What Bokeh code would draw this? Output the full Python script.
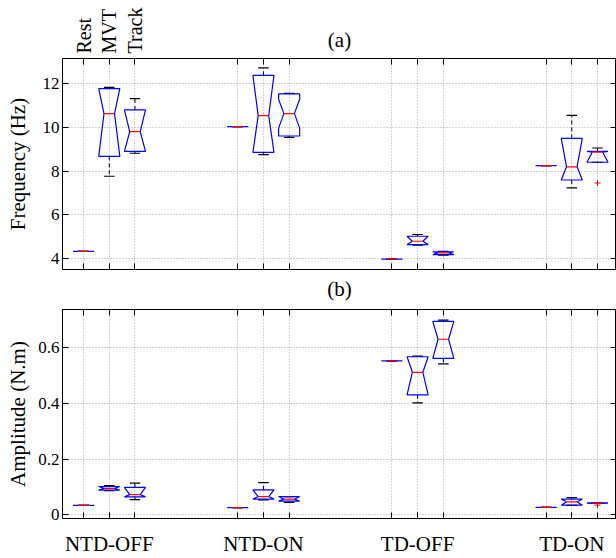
import math
from bokeh.plotting import figure
from bokeh.models import FixedTicker, LinearAxis, Range1d
from bokeh.core.properties import value
from bokeh.layouts import column
from bokeh.embed import file_html
from bokeh.resources import INLINE

# ---------------- data ----------------
conditions = ["NTD-OFF", "NTD-ON", "TD-OFF", "TD-ON"]
tasks = ["Rest", "MVT", "Track"]

# order: for each condition -> Rest, MVT, Track
freq_whisker_lo = [4.33, 7.76, 8.81, 10.03, 8.75, 9.54, 3.97, 4.61, 4.15, 8.25, 7.23, 8.40]
freq_q1 = [4.33, 8.67, 8.90, 10.03, 8.85, 9.60, 3.97, 4.64, 4.18, 8.25, 7.59, 8.40]
freq_median = [4.33, 10.62, 9.80, 10.03, 10.53, 10.62, 3.97, 4.79, 4.26, 8.25, 8.19, 8.86]
freq_q3 = [4.33, 11.76, 10.79, 10.03, 12.37, 11.52, 3.97, 5.02, 4.31, 8.25, 9.49, 8.90]
freq_whisker_hi = [4.33, 11.82, 11.31, 10.03, 12.71, 11.55, 3.97, 5.10, 4.33, 8.25, 10.54, 9.05]
freq_notch_lo = [4.33, 8.67, 8.90, 10.03, 8.85, 9.96, 3.97, 4.64, 4.18, 8.25, 7.59, 8.40]
freq_notch_hi = [4.33, 11.76, 10.79, 10.03, 12.37, 11.28, 3.97, 5.02, 4.31, 8.25, 9.49, 8.90]
freq_outlier_box = [11]
freq_outlier_val = [7.45]

amp_whisker_lo = [0.033, 0.086, 0.054, 0.025, 0.053, 0.044, 0.553, 0.402, 0.542, 0.026, 0.033, 0.040]
amp_q1 = [0.033, 0.088, 0.064, 0.025, 0.056, 0.0485, 0.553, 0.431, 0.562, 0.026, 0.034, 0.040]
amp_median = [0.033, 0.094, 0.072, 0.025, 0.065, 0.0555, 0.553, 0.512, 0.631, 0.026, 0.046, 0.041]
amp_q3 = [0.033, 0.101, 0.098, 0.025, 0.089, 0.065, 0.553, 0.568, 0.695, 0.026, 0.0555, 0.042]
amp_whisker_hi = [0.033, 0.104, 0.113, 0.025, 0.115, 0.065, 0.553, 0.570, 0.700, 0.026, 0.061, 0.042]
amp_notch_lo = [0.033, 0.088, 0.064, 0.025, 0.056, 0.0485, 0.553, 0.431, 0.562, 0.026, 0.034, 0.040]
amp_notch_hi = [0.033, 0.101, 0.098, 0.025, 0.089, 0.065, 0.553, 0.568, 0.695, 0.026, 0.0555, 0.042]
amp_outlier_box = [11]
amp_outlier_val = [0.034]

freq_ticks = [4, 6, 8, 10, 12]
amp_ticks = [0, 0.2, 0.4, 0.6]
panel_titles = ["(a)", "(b)"]

# ---------------- layout helpers ----------------
FONT = "Liberation Serif"
GROUP_STEP = 6
positions = [1 + GROUP_STEP * (i // len(tasks)) + (i % len(tasks))
             for i in range(len(conditions) * len(tasks))]
X_RANGE = (0.18, 21.74)
HW = 0.41   # half box width
QW = 0.205  # half notch / cap width
W = 616
LEFT = 62
TICK = 6


def style_axis(ax, major, minor=None, labels=None, size="17px", standoff=3):
    ax.ticker = FixedTicker(ticks=major, minor_ticks=minor if minor is not None else [])
    ax.major_tick_in = TICK
    ax.major_tick_out = 0
    ax.minor_tick_in = TICK
    ax.minor_tick_out = 0
    ax.axis_line_color = "black"
    ax.major_tick_line_color = "black"
    ax.minor_tick_line_color = "black"
    ax.major_label_text_font = FONT
    ax.major_label_text_color = "black"
    ax.major_label_text_font_size = size
    ax.major_label_standoff = standoff
    ax.axis_label_text_font = FONT
    ax.axis_label_text_font_size = "21px"
    ax.axis_label_text_font_style = "normal"
    ax.axis_label_text_color = "black"
    if labels is not None:
        ax.major_label_overrides = labels


def make_panel(height, ylo, yhi, yticks, ylabels, ylabel, label_standoff,
               border_top, border_bottom, wlo, q1, med, q3, whi, nlo, nhi,
               out_box, out_val):
    p = figure(width=W, height=height, output_backend="svg", toolbar_location=None,
               x_range=Range1d(*X_RANGE), y_range=Range1d(ylo, yhi),
               min_border_left=LEFT, min_border_right=0,
               min_border_top=border_top, min_border_bottom=border_bottom)
    p.outline_line_color = "black"
    p.background_fill_color = "white"
    p.border_fill_color = "white"

    yax = p.yaxis[0]
    style_axis(yax, yticks, labels=ylabels)
    yax.axis_label = ylabel
    yax.axis_label_standoff = label_standoff
    rax = LinearAxis()
    style_axis(rax, [], minor=yticks, standoff=0)
    p.add_layout(rax, "right")

    for g in (p.xgrid[0], p.ygrid[0]):
        g.grid_line_color = "#a8a8a8"
        g.grid_line_dash = "1 2"
        g.grid_line_width = 1
    p.xgrid[0].ticker = FixedTicker(ticks=positions)
    p.ygrid[0].ticker = FixedTicker(ticks=yticks)

    xs, ys = [], []
    for i, x in enumerate(positions):
        xs.append([x - HW, x - HW, x - QW, x - HW, x - HW,
                   x + HW, x + HW, x + QW, x + HW, x + HW])
        ys.append([q1[i], nlo[i], med[i], nhi[i], q3[i],
                   q3[i], nhi[i], med[i], nlo[i], q1[i]])
    p.segment(x0=positions, y0=q3, x1=positions, y1=whi,
              line_color="black", line_width=1, line_dash="4 3")
    p.segment(x0=positions, y0=q1, x1=positions, y1=wlo,
              line_color="black", line_width=1, line_dash="4 3")
    cx0 = [x - QW for x in positions]
    cx1 = [x + QW for x in positions]
    p.segment(x0=cx0, y0=whi, x1=cx1, y1=whi, line_color="black", line_width=1.2)
    p.segment(x0=cx0, y0=wlo, x1=cx1, y1=wlo, line_color="black", line_width=1.2)
    p.patches(xs, ys, fill_color=None, line_color="#0000ff", line_width=1.2)
    p.segment(x0=cx0, y0=med, x1=cx1, y1=med, line_color="#ff0000", line_width=1.2)
    p.scatter(x=[positions[b] for b in out_box], y=out_val, marker="cross",
              size=6, line_color="#ff0000", line_width=1)
    return p


# ---------------- header: task names and "(a)" ----------------
H0 = 58
p0 = figure(width=W, height=H0, output_backend="svg", toolbar_location=None,
            x_range=Range1d(*X_RANGE), y_range=Range1d(0, H0),
            x_axis_location=None, y_axis_location=None,
            min_border_left=LEFT, min_border_right=0, min_border_top=0, min_border_bottom=0)
p0.outline_line_color = None
p0.background_fill_color = "white"
p0.border_fill_color = "white"
p0.grid.visible = False
p0.text(x=positions[:len(tasks)], y=[5] * len(tasks), text=tasks, angle=math.pi / 2,
        text_align="left", text_baseline="middle", text_font=value(FONT),
        text_font_size="20px", text_color="black")
p0.text(x=[sum(X_RANGE) / 2], y=[19], text=[panel_titles[0]], text_align="center",
        text_baseline="middle", text_font=value(FONT), text_font_size="21px",
        text_color="black")

# ---------------- top panel: frequency ----------------
p1 = make_panel(245, 3.5, 13.14, freq_ticks, {t: str(t) for t in freq_ticks},
                "Frequency (Hz)", 10, 0, 33,
                freq_whisker_lo, freq_q1, freq_median, freq_q3, freq_whisker_hi,
                freq_notch_lo, freq_notch_hi, freq_outlier_box, freq_outlier_val)
style_axis(p1.xaxis[0], [], minor=positions, standoff=0)
p1.xaxis[0].axis_label = panel_titles[1]
p1.xaxis[0].axis_label_standoff = 7
tax = LinearAxis()
style_axis(tax, [], minor=positions, standoff=0)
p1.add_layout(tax, "above")

# ---------------- bottom panel: amplitude ----------------
amp_labels = {t: ("0" if t == 0 else str(t)) for t in amp_ticks}
p2 = make_panel(255, -0.014, 0.738, amp_ticks, amp_labels,
                "Amplitude (N.m)", 5, 6, 37,
                amp_whisker_lo, amp_q1, amp_median, amp_q3, amp_whisker_hi,
                amp_notch_lo, amp_notch_hi, amp_outlier_box, amp_outlier_val)
group_centers = [positions[c * len(tasks) + 1] for c in range(len(conditions))]
style_axis(p2.xaxis[0], group_centers, minor=positions,
           labels={x: name for x, name in zip(group_centers, conditions)},
           size="21px", standoff=13)
bax = LinearAxis()
style_axis(bax, [], minor=positions, standoff=0)
p2.add_layout(bax, "above")

layout = column(p0, p1, p2, spacing=0)
open("out.html", "w").write(file_html(layout, INLINE))
